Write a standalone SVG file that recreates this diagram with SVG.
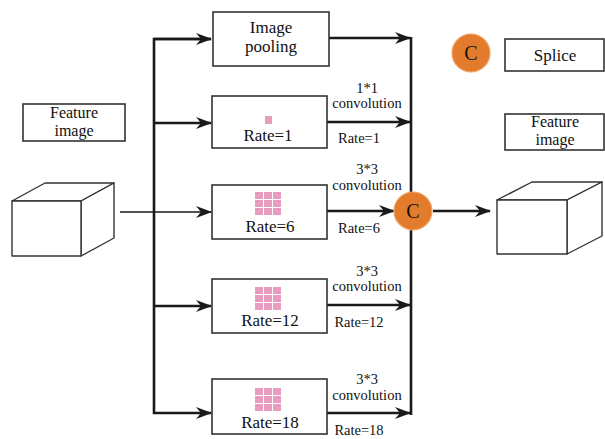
<svg xmlns="http://www.w3.org/2000/svg" width="605" height="439" viewBox="0 0 605 439">
  <style>
    .box { fill: #ffffff; stroke: #333333; stroke-width: 1.6; }
    .cube { fill: #ffffff; stroke: #333333; stroke-width: 1.4; stroke-linejoin: round; }
    .t { font-family: "Liberation Serif", "DejaVu Serif", "Times New Roman", serif; fill: #111111; text-anchor: middle; }
    .big { font-size: 17px; }
    .two { font-size: 16px; }
    .lab { font-size: 14.5px; }
    .wire { fill: none; stroke: #1a1a1a; stroke-width: 2.6; }
    .thin { fill: none; stroke: #1a1a1a; stroke-width: 1.6; }
    .cat { fill: #e27b2c; stroke: #f2a56a; stroke-width: 1.2; }
    .cell { fill: #e89cbf; }
  </style>
  <defs>
    <marker id="arrow" viewBox="0 0 16 12" refX="15" refY="6" markerWidth="16" markerHeight="12" markerUnits="userSpaceOnUse" orient="auto">
      <path d="M0,0 L16,6 L0,12 L5,6 Z" fill="#1a1a1a"/>
    </marker>
    <g id="grid">
      <rect class="cell" x="0" y="0" width="8" height="7"/>
      <rect class="cell" x="9" y="0" width="8" height="7"/>
      <rect class="cell" x="18" y="0" width="8" height="7"/>
      <rect class="cell" x="0" y="8" width="8" height="7"/>
      <rect class="cell" x="9" y="8" width="8" height="7"/>
      <rect class="cell" x="18" y="8" width="8" height="7"/>
      <rect class="cell" x="0" y="16" width="8" height="7"/>
      <rect class="cell" x="9" y="16" width="8" height="7"/>
      <rect class="cell" x="18" y="16" width="8" height="7"/>
    </g>
  </defs>

  <!-- connectors -->
  <g id="connectors">
    <!-- input line from cube -->
    <line class="thin" x1="120" y1="212" x2="211" y2="212" marker-end="url(#arrow)"/>
    <!-- left distribution bus -->
    <polyline class="wire" points="211,39 154,39 154,413 211,413" marker-end="url(#arrow)"/>
    <line class="wire" x1="154" y1="39" x2="211" y2="39" marker-end="url(#arrow)"/>
    <line class="wire" x1="154" y1="123" x2="211" y2="123" marker-end="url(#arrow)"/>
    <line class="wire" x1="154" y1="306" x2="211" y2="306" marker-end="url(#arrow)"/>
    <!-- branch outputs -->
    <line class="wire" x1="329" y1="38" x2="410" y2="38" marker-end="url(#arrow)"/>
    <line class="wire" x1="327" y1="122" x2="410" y2="122" marker-end="url(#arrow)"/>
    <line class="wire" x1="327" y1="211" x2="394" y2="211" marker-end="url(#arrow)"/>
    <line class="wire" x1="327" y1="305" x2="410" y2="305" marker-end="url(#arrow)"/>
    <line class="wire" x1="327" y1="413" x2="410" y2="413" marker-end="url(#arrow)"/>
    <!-- right collecting bus -->
    <line class="wire" x1="411" y1="37" x2="411" y2="415"/>
    <!-- output -->
    <line class="wire" x1="433" y1="211" x2="490" y2="211" marker-end="url(#arrow)"/>
  </g>

  <!-- branch labels -->
  <g id="labels">
    <text class="t lab" x="367" y="93">1*1</text>
    <text class="t lab" x="367" y="108">convolution</text>
    <text class="t lab" x="359" y="143">Rate=1</text>

    <text class="t lab" x="367" y="174">3*3</text>
    <text class="t lab" x="367" y="190">convolution</text>
    <text class="t lab" x="359" y="233">Rate=6</text>

    <text class="t lab" x="367" y="276">3*3</text>
    <text class="t lab" x="367" y="291">convolution</text>
    <text class="t lab" x="359" y="327">Rate=12</text>

    <text class="t lab" x="367" y="384">3*3</text>
    <text class="t lab" x="367" y="400">convolution</text>
    <text class="t lab" x="359" y="435">Rate=18</text>
  </g>

  <!-- input feature map -->
  <g id="input-label">
    <rect class="box" x="23" y="104" width="102" height="37"/>
    <text class="t two" x="74" y="117.5">Feature</text>
    <text class="t two" x="74" y="135.5">image</text>
  </g>
  <g id="input-cube">
    <polygon class="cube" points="12,201 45,183 114,183 81,201"/>
    <polygon class="cube" points="81,201 114,183 114,238 81,256"/>
    <rect class="cube" x="12" y="201" width="69" height="55"/>
  </g>

  <!-- branches -->
  <g id="pooling">
    <rect class="box" x="213" y="12" width="116" height="54"/>
    <text class="t big" x="271" y="33">Image</text>
    <text class="t big" x="271" y="52">pooling</text>
  </g>
  <g id="rate1">
    <rect class="box" x="212" y="96" width="115" height="52"/>
    <rect class="cell" x="265" y="116" width="7" height="8"/>
    <text class="t big" x="268" y="141">Rate=1</text>
  </g>
  <g id="rate6">
    <rect class="box" x="212" y="185" width="115" height="54"/>
    <use href="#grid" x="255" y="192"/>
    <text class="t big" x="270" y="232">Rate=6</text>
  </g>
  <g id="rate12">
    <rect class="box" x="212" y="279" width="115" height="54"/>
    <use href="#grid" x="255" y="287"/>
    <text class="t big" x="270" y="326">Rate=12</text>
  </g>
  <g id="rate18">
    <rect class="box" x="212" y="379" width="115" height="55"/>
    <use href="#grid" x="255" y="388"/>
    <text class="t big" x="270" y="428">Rate=18</text>
  </g>

  <!-- concatenation -->
  <g id="concat">
    <circle class="cat" cx="413" cy="211" r="19"/>
    <text class="t" x="413" y="218" font-size="20">C</text>
  </g>

  <!-- legend -->
  <g id="legend-symbol">
    <circle class="cat" cx="471" cy="53" r="19"/>
    <text class="t" x="471" y="60" font-size="20">C</text>
  </g>
  <g id="legend-splice">
    <rect class="box" x="505" y="39" width="99" height="32"/>
    <text class="t big" x="555" y="61">Splice</text>
  </g>

  <!-- output feature map -->
  <g id="output-label">
    <rect class="box" x="505" y="114" width="99" height="36"/>
    <text class="t two" x="555" y="127">Feature</text>
    <text class="t two" x="555" y="145">image</text>
  </g>
  <g id="output-cube">
    <polygon class="cube" points="497,200 532,182 602,182 567,200"/>
    <polygon class="cube" points="567,200 602,182 602,236 567,254"/>
    <rect class="cube" x="497" y="200" width="70" height="54"/>
  </g>
</svg>
